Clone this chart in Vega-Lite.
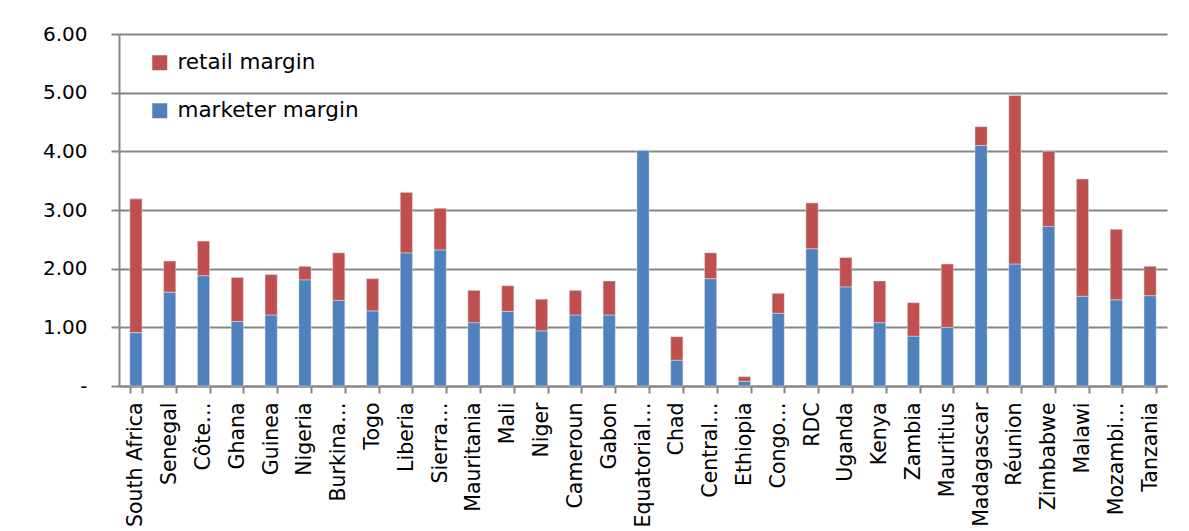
{
  "$schema": "https://vega.github.io/schema/vega-lite/v6.json",
  "autosize": "none",
  "width": 1048,
  "height": 352,
  "padding": {"left": 119, "top": 34, "right": 22, "bottom": 145},
  "background": "white",
  "data": {
    "values": [
      {"country": "South Africa", "margin": "marketer margin", "value": 0.91},
      {"country": "South Africa", "margin": "retail margin", "value": 2.28},
      {"country": "Senegal", "margin": "marketer margin", "value": 1.60},
      {"country": "Senegal", "margin": "retail margin", "value": 0.53},
      {"country": "Côte…", "margin": "marketer margin", "value": 1.88},
      {"country": "Côte…", "margin": "retail margin", "value": 0.59},
      {"country": "Ghana", "margin": "marketer margin", "value": 1.10},
      {"country": "Ghana", "margin": "retail margin", "value": 0.75},
      {"country": "Guinea", "margin": "marketer margin", "value": 1.21},
      {"country": "Guinea", "margin": "retail margin", "value": 0.69},
      {"country": "Nigeria", "margin": "marketer margin", "value": 1.81},
      {"country": "Nigeria", "margin": "retail margin", "value": 0.23},
      {"country": "Burkina…", "margin": "marketer margin", "value": 1.46},
      {"country": "Burkina…", "margin": "retail margin", "value": 0.81},
      {"country": "Togo", "margin": "marketer margin", "value": 1.28},
      {"country": "Togo", "margin": "retail margin", "value": 0.55},
      {"country": "Liberia", "margin": "marketer margin", "value": 2.27},
      {"country": "Liberia", "margin": "retail margin", "value": 1.03},
      {"country": "Sierra…", "margin": "marketer margin", "value": 2.32},
      {"country": "Sierra…", "margin": "retail margin", "value": 0.71},
      {"country": "Mauritania", "margin": "marketer margin", "value": 1.08},
      {"country": "Mauritania", "margin": "retail margin", "value": 0.55},
      {"country": "Mali", "margin": "marketer margin", "value": 1.27},
      {"country": "Mali", "margin": "retail margin", "value": 0.44},
      {"country": "Niger", "margin": "marketer margin", "value": 0.94},
      {"country": "Niger", "margin": "retail margin", "value": 0.54},
      {"country": "Cameroun", "margin": "marketer margin", "value": 1.21},
      {"country": "Cameroun", "margin": "retail margin", "value": 0.42},
      {"country": "Gabon", "margin": "marketer margin", "value": 1.21},
      {"country": "Gabon", "margin": "retail margin", "value": 0.58},
      {"country": "Equatorial…", "margin": "marketer margin", "value": 4.02},
      {"country": "Equatorial…", "margin": "retail margin", "value": 0.0},
      {"country": "Chad", "margin": "marketer margin", "value": 0.44},
      {"country": "Chad", "margin": "retail margin", "value": 0.40},
      {"country": "Central…", "margin": "marketer margin", "value": 1.83},
      {"country": "Central…", "margin": "retail margin", "value": 0.44},
      {"country": "Ethiopia", "margin": "marketer margin", "value": 0.08},
      {"country": "Ethiopia", "margin": "retail margin", "value": 0.08},
      {"country": "Congo…", "margin": "marketer margin", "value": 1.24},
      {"country": "Congo…", "margin": "retail margin", "value": 0.34},
      {"country": "RDC", "margin": "marketer margin", "value": 2.34},
      {"country": "RDC", "margin": "retail margin", "value": 0.78},
      {"country": "Uganda", "margin": "marketer margin", "value": 1.69},
      {"country": "Uganda", "margin": "retail margin", "value": 0.50},
      {"country": "Kenya", "margin": "marketer margin", "value": 1.08},
      {"country": "Kenya", "margin": "retail margin", "value": 0.71},
      {"country": "Zambia", "margin": "marketer margin", "value": 0.85},
      {"country": "Zambia", "margin": "retail margin", "value": 0.57},
      {"country": "Mauritius", "margin": "marketer margin", "value": 1.00},
      {"country": "Mauritius", "margin": "retail margin", "value": 1.08},
      {"country": "Madagascar", "margin": "marketer margin", "value": 4.10},
      {"country": "Madagascar", "margin": "retail margin", "value": 0.32},
      {"country": "Réunion", "margin": "marketer margin", "value": 2.08},
      {"country": "Réunion", "margin": "retail margin", "value": 2.87},
      {"country": "Zimbabwe", "margin": "marketer margin", "value": 2.72},
      {"country": "Zimbabwe", "margin": "retail margin", "value": 1.28},
      {"country": "Malawi", "margin": "marketer margin", "value": 1.53},
      {"country": "Malawi", "margin": "retail margin", "value": 2.00},
      {"country": "Mozambi…", "margin": "marketer margin", "value": 1.47},
      {"country": "Mozambi…", "margin": "retail margin", "value": 1.20},
      {"country": "Tanzania", "margin": "marketer margin", "value": 1.54},
      {"country": "Tanzania", "margin": "retail margin", "value": 0.50}
    ]
  },
  "mark": {"type": "bar", "stroke": "#dfe8f3", "strokeOpacity": 0.6, "strokeWidth": 0.8},
  "encoding": {
    "x": {
      "field": "country",
      "type": "nominal",
      "sort": null,
      "scale": {"paddingInner": 0.64, "paddingOuter": 0.32},
      "axis": {
        "title": null,
        "labelAngle": -90,
        "labelFont": "DejaVu Sans",
        "labelFontSize": 20.5,
        "labelColor": "#000000",
        "labelPadding": 9,
        "labelLimit": 300,
        "tickBand": "extent",
        "tickSize": 7,
        "tickWidth": 2,
        "tickColor": "#868686",
        "domainColor": "#868686",
        "domainWidth": 2,
        "grid": false
      }
    },
    "y": {
      "field": "value",
      "type": "quantitative",
      "stack": "zero",
      "scale": {"domain": [0, 6], "nice": false},
      "axis": {
        "title": null,
        "values": [0, 1, 2, 3, 4, 5, 6],
        "labelExpr": "datum.value == 0 ? '-' : format(datum.value, '.2f')",
        "labelFont": "DejaVu Sans",
        "labelFontSize": 20,
        "labelColor": "#000000",
        "labelPadding": 24,
        "tickSize": 8,
        "tickWidth": 2,
        "tickColor": "#868686",
        "domainColor": "#868686",
        "domainWidth": 2,
        "grid": true,
        "gridColor": "#868686",
        "gridWidth": 2
      }
    },
    "color": {
      "field": "margin",
      "type": "nominal",
      "scale": {
        "domain": ["retail margin", "marketer margin"],
        "range": ["#c0504d", "#4f81bd"]
      },
      "legend": {
        "title": null,
        "orient": "none",
        "legendX": 30,
        "legendY": 18,
        "padding": 0,
        "symbolType": "square",
        "symbolSize": 225,
        "symbolStrokeWidth": 0,
        "symbolOffset": 0,
        "labelFont": "DejaVu Sans",
        "labelFontSize": 21.5,
        "labelColor": "#000000",
        "labelOffset": 7,
        "labelLimit": 400,
        "rowPadding": 25
      }
    },
    "order": {"field": "margin", "sort": "ascending"}
  },
  "config": {
    "view": {"stroke": null}
  }
}
